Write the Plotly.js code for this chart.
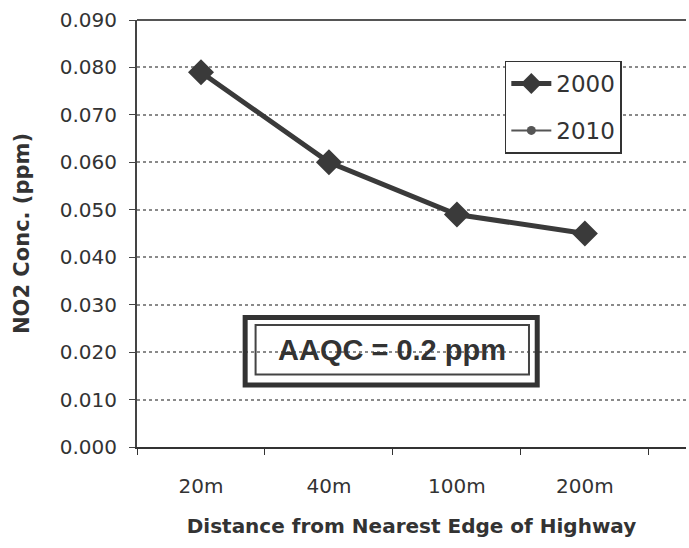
<!DOCTYPE html>
<html>
<head>
<meta charset="utf-8">
<script src="https://cdn.plot.ly/plotly-3.0.1.min.js"></script>
<style>html,body{margin:0;padding:0;background:#fff;}#chart{width:689px;height:548px;}</style>
</head>
<body>
<div id="chart"></div>
<script>
const categories = ["20m", "40m", "100m", "200m"];
const values2000 = [0.079, 0.060, 0.049, 0.045];
const values2010 = [0.079, 0.060, 0.049, 0.045];
const yTicks = [0, 0.01, 0.02, 0.03, 0.04, 0.05, 0.06, 0.07, 0.08, 0.09];
const yTickLabels = ["0.000","0.010","0.020","0.030","0.040","0.050","0.060","0.070","0.080","0.090"];

const ink = "#3a3a3a";
const traces = [
  {x: categories, y: values2010, name: "2010", legendgroup: "b", legendrank: 2, type: "scatter", mode: "lines+markers",
   line: {color: "#555", width: 2}, marker: {symbol: "circle", size: 9, color: "#555"}},
  {x: categories, y: values2000, name: "2000", legendgroup: "a", legendrank: 1, type: "scatter", mode: "lines+markers",
   line: {color: ink, width: 5}, marker: {symbol: "diamond", size: 20, color: ink}}
];

const layout = {
  width: 689, height: 548,
  margin: {l: 137, r: 3, t: 20, b: 101},
  paper_bgcolor: "#fff", plot_bgcolor: "#fff",
  font: {family: "DejaVu Sans", color: "#333", size: 20},
  showlegend: true,
  legend: {x: 0.67, y: 0.905, xanchor: "left", yanchor: "top", traceorder: "grouped",
    tracegroupgap: 14,
    bordercolor: "#333", borderwidth: 1.5, bgcolor: "#fff",
    font: {family: "DejaVu Sans", size: 23, color: "#333"}, itemwidth: 40},
  xaxis: {
    type: "category", range: [-0.5, 3.79],
    showline: true, linecolor: "#333", linewidth: 2, mirror: false,
    ticks: "outside", tickson: "boundaries", ticklen: 6, tickcolor: "#333",
    ticklabelstandoff: 20,
    showgrid: false, zeroline: false,
    tickfont: {family: "DejaVu Sans", size: 20, color: "#333"},
    title: {text: "<b>Distance from Nearest Edge of Highway</b>", standoff: 22,
      font: {family: "DejaVu Sans", size: 20, color: "#333"}}
  },
  yaxis: {
    range: [0, 0.09], tickvals: yTicks, ticktext: yTickLabels,
    showline: true, linecolor: "#444", linewidth: 2,
    ticks: "outside", ticklen: 6, tickcolor: "#444",
    ticklabelstandoff: 8,
    showgrid: true, gridcolor: "#8a8a8a", gridwidth: 2, griddash: "dot",
    zeroline: false,
    tickfont: {family: "DejaVu Sans", size: 20, color: "#333"},
    title: {text: "<b>NO2 Conc. (ppm)</b>", standoff: 24,
      font: {family: "DejaVu Sans", size: 21, color: "#333"}}
  },
  shapes: [
    {type: "rect", xref: "paper", yref: "paper", x0: 0.197, x1: 0.729, y0: 0.145, y1: 0.303,
     line: {color: "#333", width: 5}, fillcolor: "rgba(0,0,0,0)"},
    {type: "rect", xref: "paper", yref: "paper", x0: 0.216, x1: 0.714, y0: 0.17, y1: 0.286,
     line: {color: "#444", width: 2}, fillcolor: "rgba(0,0,0,0)"},
    {type: "line", xref: "paper", yref: "paper", x0: 0, x1: 1, y0: 1, y1: 1,
     line: {color: "#555", width: 2}}
  ],
  annotations: [
    {xref: "paper", yref: "paper", x: 0.465, y: 0.228, xanchor: "center", yanchor: "middle",
     text: "<b>AAQC = 0.2 ppm</b>", showarrow: false,
     font: {family: "Liberation Sans", size: 29, color: "#333"}}
  ]
};

Plotly.newPlot("chart", traces, layout, {displayModeBar: false, staticPlot: true});
</script>
</body>
</html>
